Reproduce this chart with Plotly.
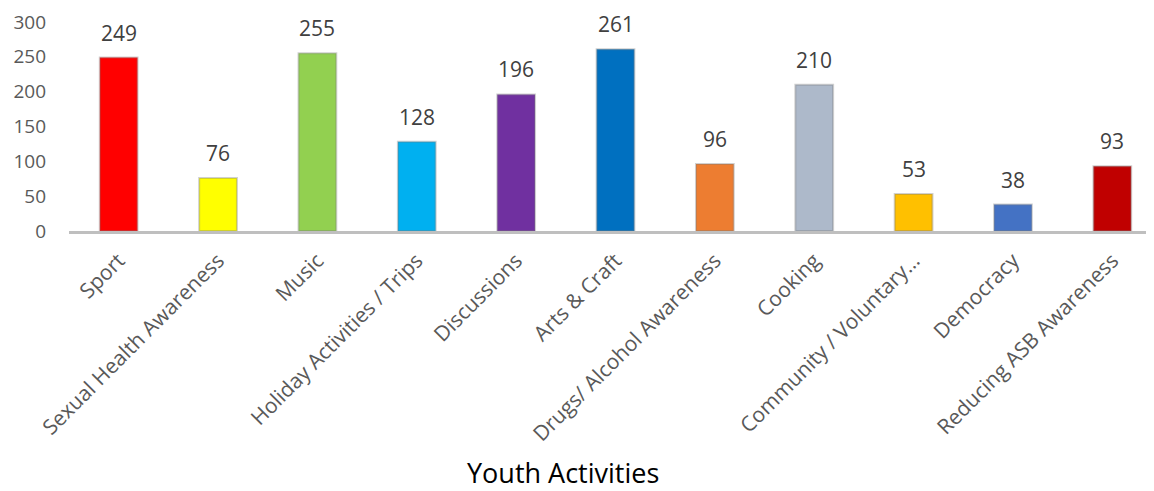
import plotly.graph_objects as go

categories = ["Sport", "Sexual Health Awareness", "Music", "Holiday Activities / Trips",
              "Discussions", "Arts & Craft", "Drugs/ Alcohol Awareness", "Cooking",
              "Community / Voluntary…", "Democracy", "Reducing ASB Awareness"]
values = [249, 76, 255, 128, 196, 261, 96, 210, 53, 38, 93]
colors = ["#FF0000", "#FFFF00", "#92D050", "#00B0F0", "#7030A0", "#0070C0",
          "#ED7D31", "#ADB9CA", "#FFC000", "#4472C4", "#C00000"]
y_ticks = [0, 50, 100, 150, 200, 250, 300]

fig = go.Figure()
fig.add_trace(go.Bar(
    x=categories, y=values,
    marker=dict(color=colors, line=dict(color="rgba(120,120,120,0.35)", width=2)),
    hoverinfo="x+y",
))

for c, v in zip(categories, values):
    fig.add_annotation(x=c, y=v, text=str(v), showarrow=False, yshift=25,
                       font=dict(family="Open Sans", size=21, color="#404040"))

fig.add_annotation(x=0.452, y=-1.157, xref="paper", yref="paper", text="Youth Activities",
                   xanchor="center", yanchor="middle",
                   showarrow=False, font=dict(family="Open Sans", size=27, color="#000000"))

fig.update_layout(
    width=1154, height=491,
    margin=dict(l=61, r=0, t=14, b=268),
    plot_bgcolor="white", paper_bgcolor="white",
    bargap=0.62,
    showlegend=False,
    font=dict(family="Open Sans", color="#595959"),
)
fig.update_xaxes(
    range=[-0.5, 10.5], tickangle=-45, showline=True, linecolor="#BFBFBF", linewidth=3,
    tickfont=dict(family="Open Sans", size=21, color="#595959"),
    ticks="", showgrid=False, ticklabelstandoff=6, automargin=False,
    ticklabeloverflow="allow",
)
fig.update_yaxes(
    range=[0, 300], tickvals=y_ticks, showgrid=False, zeroline=False, showline=False,
    tickfont=dict(family="Open Sans", size=19, color="#595959"), ticklabelstandoff=22,
    automargin=False, ticklabeloverflow="allow",
)

fig.write_html("out.html")
